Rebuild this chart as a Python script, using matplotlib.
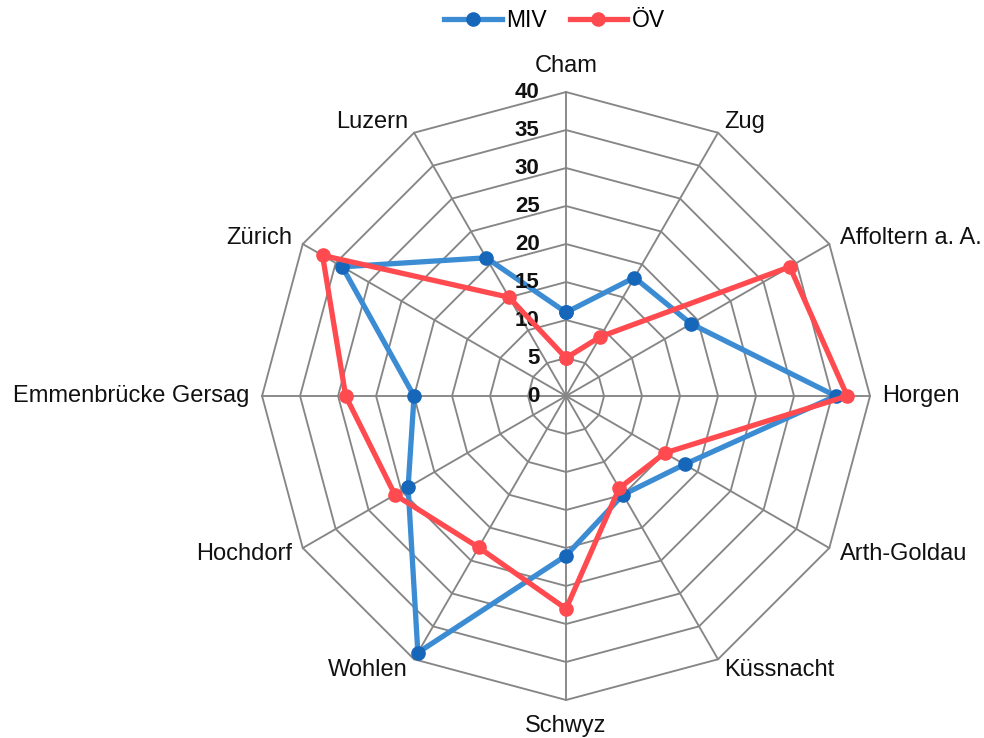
import numpy as np
import matplotlib
matplotlib.use("Agg")
import matplotlib.pyplot as plt

categories = ["Cham", "Zug", "Affoltern a. A.", "Horgen", "Arth-Goldau", "Küssnacht",
              "Schwyz", "Wohlen", "Hochdorf", "Emmenbrücke Gersag", "Zürich", "Luzern"]
miv = [11, 18, 19, 35.5, 18, 15, 21, 39, 24, 20, 34, 21]
oev = [5, 9, 34, 37, 15, 14, 28, 23, 26, 29, 37, 15]
series_names = ["MIV", "ÖV"]
r_ticks = [0, 5, 10, 15, 20, 25, 30, 35, 40]

plt.rcParams['font.family'] = ['Liberation Sans', 'DejaVu Sans']

fig = plt.figure(figsize=(9.84, 7.38), dpi=100)
ax = fig.add_axes([0.2663, 0.0515, 0.6179, 0.8238], projection='polar')
ax.set_theta_zero_location('N')
ax.set_theta_direction(-1)
ax.set_ylim(0, r_ticks[-1])
ax.grid(False)
ax.spines['polar'].set_visible(False)
ax.set_xticks([])
ax.set_yticks([])

n = len(categories)
angles = np.linspace(0, 2 * np.pi, n, endpoint=False)
closed = np.concatenate([angles, angles[:1]])

grid_c = '#868686'
for r in r_ticks[1:]:
    ax.plot(closed, [r] * (n + 1), color=grid_c, lw=1.35, zorder=1, clip_on=False)
for a in angles:
    ax.plot([a, a], [0, r_ticks[-1]], color=grid_c, lw=1.35, zorder=1, clip_on=False)

blue_line, blue_mk = '#3C8CD4', '#1666BA'
red_line, red_mk = '#FF4A4F', '#FF4A4F'
ax.plot(closed, miv + miv[:1], color=blue_line, lw=3.8, marker='o', ms=9.5,
        mfc=blue_mk, mec=blue_mk, zorder=3, clip_on=False, label=series_names[0])
ax.plot(closed, oev + oev[:1], color=red_line, lw=3.8, marker='o', ms=9.5,
        mfc=red_mk, mec=red_mk, zorder=4, clip_on=False, label=series_names[1])

# radial tick labels
for r in r_ticks:
    ax.annotate(str(r), xy=(0, r), xytext=(-19, 0), textcoords='offset points',
                ha='right', va='center', fontsize=16, fontweight='bold', color='#111111')

# category labels
for a, lab in zip(angles, categories):
    s, c = np.sin(a), np.cos(a)
    d = 9 if abs(c) < 0.99 else 19
    ha = 'left' if s > 0.1 else ('right' if s < -0.1 else 'center')
    ax.annotate(lab, xy=(a, r_ticks[-1]), xytext=(d * s, d * c), textcoords='offset points',
                ha=ha, va='center', fontsize=17, color='#111111')

fig.legend(loc='center', bbox_to_anchor=(0.5635, 0.972), ncol=2, frameon=False,
           fontsize=16.5, handlelength=2.5, handletextpad=0.2, columnspacing=1.0,
           borderaxespad=0)

fig.savefig('out.png', dpi=100)
